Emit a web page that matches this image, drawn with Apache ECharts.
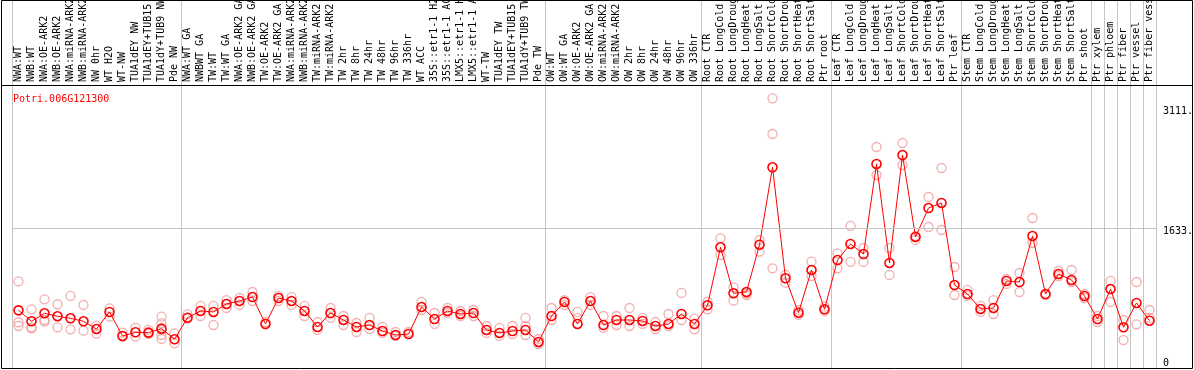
<!DOCTYPE html>
<html><head><meta charset="utf-8">
<script src="https://cdn.jsdelivr.net/npm/echarts@6/dist/echarts.min.js"></script>
<style>html,body{margin:0;padding:0;background:#fff;overflow:hidden}#c{width:1194px;height:370px}</style>
</head><body><div id="c"></div>
<script>
const geneName = 'Potri.006G121300';
const categories = [
 'NWA:WT','NWB:WT','NWA:OE-ARK2','NWB:OE-ARK2','NWA:miRNA-ARK2','NWB:miRNA-ARK2','NW 0hr','WT H2O','WT-NW','TUA1dEY NW','TUA1dEY+TUB15 NW','TUA1dY+TUB9 NW','Pde NW',
 'NWA:WT GA','NWBWT GA','TW:WT','TW:WT GA','NWA:OE-ARK2 GA','NWB:OE-ARK2 GA','TW:OE-ARK2','TW:OE-ARK2 GA','NWA:miRNA-ARK2 GA','NWB:miRNA-ARK2 GA','TW:miRNA-ARK2','TW:miRNA-ARK2 GA',
 'TW 2hr','TW 8hr','TW 24hr','TW 48hr','TW 96hr','TW 336hr','WT ACC','35S::etr1-1 H2O','35S::etr1-1 ACC','LMX5::etr1-1 H2O','LMX5::etr1-1 ACC','WT-TW','TUA1dEY TW','TUA1dEY+TUB15 TW','TUA1dY+TUB9 TW','Pde TW',
 'OW:WT','OW:WT GA','OW:OE-ARK2','OW:OE-ARK2 GA','OW:miRNA-ARK2','OW:miRNA-ARK2 GA','OW 2hr','OW 8hr','OW 24hr','OW 48hr','OW 96hr','OW 336hr',
 'Root CTR','Root LongCold','Root LongDrought','Root LongHeat','Root LongSalt','Root ShortCold','Root ShortDrought','Root ShortHeat','Root ShortSalt','Ptr root',
 'Leaf CTR','Leaf LongCold','Leaf LongDrought','Leaf LongHeat','Leaf LongSalt','Leaf ShortCold','Leaf ShortDrought','Leaf ShortHeat','Leaf ShortSalt','Ptr leaf',
 'Stem CTR','Stem LongCold','Stem LongDrought','Stem LongHeat','Stem LongSalt','Stem ShortCold','Stem ShortDrought','Stem ShortHeat','Stem ShortSalt','Ptr shoot',
 'Ptr xylem','Ptr phloem','Ptr fiber','Ptr vessel','Ptr fiber vessel'
];
const means = [
 623,488,587,550,525,488,393,603,307,352,348,397,266,
 532,615,603,701,738,787,455,775,738,615,418,590,
 504,418,442,368,319,331,664,516,615,578,590,381,344,368,381,233,
 553,726,455,738,442,504,504,492,430,455,578,455,
 685,1400,833,849,1432,2386,1018,594,1120,636,
 1243,1441,1317,2427,1207,2537,1527,1884,1946,935,
 824,640,652,985,972,1539,824,1071,997,800,
 516,886,414,714,495
];
const replicates = [
 [981,476,430],[636,414,402],[759,504,483],[698,414],[800,389],[689,372],[434,335],[648,545],[348,298],[409,298],[381,332],[545,463,381,319,270],[340,217],
 [574,525],[677,553],[677,442],[750,652],[775,689],[849,738],[479],[800,738],[787,689],[677,553],[479,381],[652,529],
 [553,442],[467,356],[529,393],[418,344],[356,307],[356],[726,627],[590,455],[652,590],[615,553],[627,553],[430,344],[406,307],[430,331],[529,430,319],[270,208],
 [652,504],[750,689],[603,529],[787,689],[553,406],[553,442],[652,430],[529,455],[479,393],[578,430],[837,504],[520,389],
 [729,636],[1511,1305],[907,742],[833,812],[1490,1346],[3236,2796,1141],[1059,964],[627,566],[1223,1046],[668,615],
 [1326,1141],[1663,1219],[1391,1219],[2636,2291],[1391,1059],[2685,2414],[1539,1490],[2020,1650],[2377,1613],[1157,812],
 [874,800],[677,603],[750,578],[1009,948],[1083,849],[1761,1453],[812],[1108,1046],[1120,972],[824,775],
 [553,479],[985,726],[504,257],[972,451],[627,529]
];
const groupStarts = [0,13,41,53,63,73,83,84,85,86,87];
const yTickValues = [0,1633,3111];
const yTickLabels = ['0','1633.','3111.'];

const MONO = 'DejaVu Sans Mono';
const repData = [];
replicates.forEach((vals, i) => vals.forEach(v => repData.push([i, v])));
const splitFn = (idx) => groupStarts.indexOf(idx) >= 0;

const chart = echarts.init(document.getElementById('c'), null, {renderer: 'canvas'});
chart.setOption({
  animation: false,
  backgroundColor: '#fff',
  title: {text: geneName, left: 8, top: 89, textStyle: {fontFamily: MONO, fontSize: 10, fontWeight: 'normal', color: '#ff0000'}},
  grid: [
    {left: 12, width: 1144, top: 85, height: 284, containLabel: false, outerBoundsMode: 'none'},
    {left: 12, width: 1144, top: 0, height: 85, containLabel: false, outerBoundsMode: 'none'}
  ],
  xAxis: [
    {type: 'category', gridIndex: 0, data: categories, position: 'top', boundaryGap: true,
     axisLine: {show: false}, axisTick: {show: false},
     axisLabel: {interval: 0, rotate: 90, margin: 3, fontFamily: MONO, fontSize: 10, color: '#000', width: 86, overflow: 'truncate', ellipsis: ''},
     splitLine: {show: true, interval: splitFn, lineStyle: {color: '#c4c4c4', width: 1}}},
    {type: 'category', gridIndex: 1, data: categories, boundaryGap: true,
     axisLine: {show: false}, axisTick: {show: false}, axisLabel: {show: false},
     splitLine: {show: true, interval: splitFn, lineStyle: {color: '#c4c4c4', width: 1}}}
  ],
  yAxis: [
    {type: 'value', gridIndex: 0, min: -100, max: 3400, show: false, splitLine: {show: false}},
    {type: 'value', gridIndex: 1, show: false, splitLine: {show: false}}
  ],
  series: [
    {type: 'scatter', xAxisIndex: 0, yAxisIndex: 0, data: repData, symbol: 'circle', symbolSize: 9,
     itemStyle: {color: 'rgba(0,0,0,0)', borderColor: '#f09a9a', borderWidth: 1.3}, z: 2},
    {type: 'line', xAxisIndex: 0, yAxisIndex: 0, data: means, symbol: 'circle', symbolSize: 9, showAllSymbol: true,
     lineStyle: {color: '#ff0000', width: 1}, itemStyle: {color: 'rgba(0,0,0,0)', borderColor: '#ff0000', borderWidth: 1.6}, z: 3,
     markLine: {silent: true, symbol: 'none', animation: false,
       data: yTickValues.map((v, k) => ({
         yAxis: v,
         lineStyle: {color: v === 1633 ? '#c4c4c4' : 'rgba(0,0,0,0)', width: 1, type: 'solid'},
         label: {show: true, position: 'end', distance: 7, formatter: yTickLabels[k], color: '#000', fontFamily: MONO, fontSize: 10, offset: [0, 3]}
       }))}}
  ],
  graphic: [
    {type: 'rect', shape: {x: 1.5, y: 0.5, width: 1191, height: 368}, style: {fill: 'none', stroke: '#000', lineWidth: 1}, silent: true, z: 10},
    {type: 'line', shape: {x1: 1.5, y1: 85.5, x2: 1192.5, y2: 85.5}, style: {stroke: '#000', lineWidth: 1}, silent: true, z: 10}
  ]
});
</script></body></html>
